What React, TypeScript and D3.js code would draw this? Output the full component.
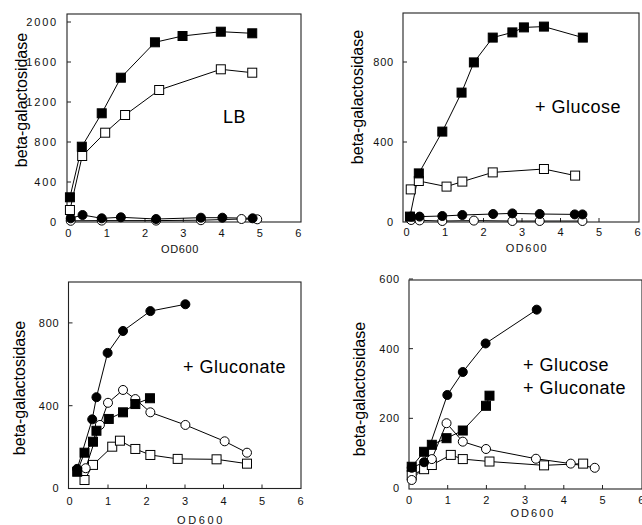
import React, { useEffect, useRef } from 'react';
import * as d3 from 'd3';

type Pt = [number, number];

// OD600 vs beta-galactosidase
// LB
const lbFilledSquare: Pt[] = [[0.04, 247], [0.35, 753], [0.87, 1087], [1.37, 1443], [2.26, 1797], [2.98, 1860], [3.98, 1903], [4.8, 1887]];
const lbOpenSquare: Pt[] = [[0.04, 120], [0.36, 660], [0.96, 893], [1.48, 1070], [2.37, 1320], [3.98, 1527], [4.8, 1493]];
const lbFilledCircle: Pt[] = [[0.06, 37], [0.37, 70], [0.87, 37], [1.37, 47], [2.29, 30], [3.46, 43], [4.02, 43], [4.81, 37]];
const lbOpenCircle: Pt[] = [[0.06, 12], [0.87, 14], [2.29, 14], [3.46, 18], [4.52, 30], [4.93, 27]];

// + Glucose
const gluFilledSquare: Pt[] = [[0.09, 27], [0.32, 243], [0.93, 452], [1.43, 647], [1.75, 798], [2.24, 922], [2.75, 948], [3.05, 973], [3.57, 977], [4.58, 922]];
const gluOpenSquare: Pt[] = [[0.11, 163], [0.32, 205], [1.04, 177], [1.45, 202], [2.24, 248], [3.57, 265], [4.38, 232]];
const gluFilledCircle: Pt[] = [[0.12, 27], [0.34, 27], [0.93, 30], [1.45, 35], [2.25, 40], [2.75, 43], [3.46, 40], [4.37, 38], [4.57, 38]];
const gluOpenCircle: Pt[] = [[0.12, 10], [0.34, 8], [0.93, 5], [1.75, 7], [2.75, 5], [3.46, 5], [4.57, 5]];

// + Gluconate
const gnFilledSquare: Pt[] = [[0.2, 81], [0.39, 173], [0.61, 226], [0.7, 279], [1.02, 336], [1.39, 368], [1.71, 408], [2.09, 436]];
const gnOpenSquare: Pt[] = [[0.39, 41], [0.61, 114], [1.11, 202], [1.31, 231], [1.71, 191], [2.1, 162], [2.81, 143], [3.82, 141], [4.61, 120]];
const gnFilledCircle: Pt[] = [[0.2, 95], [0.59, 334], [0.7, 441], [0.99, 655], [1.39, 761], [2.1, 857], [3.01, 890]];
const gnOpenCircle: Pt[] = [[0.42, 98], [0.79, 307], [1.0, 414], [1.39, 476], [1.71, 432], [2.1, 368], [3.01, 307], [4.03, 228], [4.61, 173]];

// + Glucose + Gluconate
const bothFilledSquare: Pt[] = [[0.07, 61], [0.39, 104], [0.59, 124], [0.97, 143], [1.39, 165], [1.99, 236], [2.08, 265]];
const bothOpenSquare: Pt[] = [[0.07, 37], [0.39, 54], [0.59, 66], [1.08, 95], [1.39, 83], [2.08, 76], [3.49, 65], [4.5, 70]];
const bothFilledCircle: Pt[] = [[0.07, 58], [0.39, 74], [0.99, 267], [1.39, 333], [1.98, 415], [3.3, 512]];
const bothOpenCircle: Pt[] = [[0.07, 23], [0.59, 83], [0.97, 186], [1.39, 133], [1.99, 112], [3.28, 84], [4.18, 70], [4.8, 58]];

const xTicks = [0, 1, 2, 3, 4, 5, 6];
const lbTicks = [0, 400, 800, 1200, 1600, 2000];
const gluTicks = [0, 400, 800];
const gnTicks = [0, 400, 800];
const bothTicks = [0, 200, 400, 600];

type Kind = 'fs' | 'os' | 'fc' | 'oc';

const panels = [
  {
    box: { left: 67, right: 301, top: 14, bottom: 222 },
    xRange: [68.4, 298.2], yDomain: [0, 2000], yRange: [222, 22], yTicks: lbTicks,
    series: [[lbOpenCircle, 'oc'], [lbFilledCircle, 'fc'], [lbOpenSquare, 'os'], [lbFilledSquare, 'fs']],
    labels: [['LB', 223, 123]],
    yTitle: [21, 100], xTitle: [180, 253], tickY: 237, tickSpacing: 1.8, titleSpacing: 0.6,
  },
  {
    box: { left: 403, right: 639, top: 13, bottom: 222 },
    xRange: [406.5, 637.5], yDomain: [0, 800], yRange: [222, 62], yTicks: gluTicks,
    series: [[gluOpenCircle, 'oc'], [gluFilledCircle, 'fc'], [gluOpenSquare, 'os'], [gluFilledSquare, 'fs']],
    labels: [['+ Glucose', 535, 113]],
    yTitle: [357, 97], xTitle: [527, 252], tickY: 236, tickSpacing: 0.8, titleSpacing: 1.5,
  },
  {
    box: { left: 68.5, right: 301, top: 282, bottom: 488.5 },
    xRange: [69.5, 300.5], yDomain: [0, 800], yRange: [488.5, 322.9], yTicks: gnTicks,
    series: [[gnOpenSquare, 'os'], [gnOpenCircle, 'oc'], [gnFilledSquare, 'fs'], [gnFilledCircle, 'fc']],
    labels: [['+ Gluconate', 183, 373]],
    yTitle: [19, 388], xTitle: [201, 524], tickY: 505, tickSpacing: 0.8, titleSpacing: 2.6,
  },
  {
    box: { left: 409, right: 642, top: 280, bottom: 489 },
    xRange: [409, 641.2], yDomain: [0, 600], yRange: [488, 279], yTicks: bothTicks,
    series: [[bothOpenSquare, 'os'], [bothOpenCircle, 'oc'], [bothFilledSquare, 'fs'], [bothFilledCircle, 'fc']],
    labels: [['+ Glucose', 523, 371], ['+ Gluconate', 523, 394]],
    yTitle: [359, 389], xTitle: [533, 516.5], tickY: 504, tickSpacing: 0.8, titleSpacing: 2,
  },
];

const FONT = '"Liberation Sans", Arial, Helvetica, sans-serif';

function drawChart(svgEl: SVGSVGElement) {
  const svg = d3.select(svgEl);
  svg.selectAll('*').remove();

  panels.forEach((p) => {
    const g = svg.append('g');
    const x = d3.scaleLinear().domain([0, 6]).range(p.xRange);
    const y = d3.scaleLinear().domain(p.yDomain).range(p.yRange);
    const { left, right, top, bottom } = p.box;

    // frame
    g.append('rect')
      .attr('x', left)
      .attr('y', top)
      .attr('width', right - left)
      .attr('height', bottom - top)
      .attr('fill', 'none')
      .attr('stroke', '#222')
      .attr('stroke-width', 1.1);

    // x ticks (inward)
    g.append('g')
      .selectAll('line')
      .data(xTicks.slice(1, -1))
      .join('line')
      .attr('x1', (d) => x(d))
      .attr('x2', (d) => x(d))
      .attr('y1', bottom)
      .attr('y2', bottom - 4)
      .attr('stroke', '#222');

    g.append('g')
      .attr('font-family', FONT)
      .attr('font-size', 11)
      .attr('text-anchor', 'middle')
      .attr('fill', '#111')
      .selectAll('text')
      .data(xTicks)
      .join('text')
      .attr('x', (d) => x(d))
      .attr('y', p.tickY)
      .text((d) => d);

    // y ticks (inward)
    g.append('g')
      .selectAll('line')
      .data(p.yTicks.slice(1))
      .join('line')
      .attr('x1', left)
      .attr('x2', left + 4)
      .attr('y1', (d) => y(d))
      .attr('y2', (d) => y(d))
      .attr('stroke', '#222');

    g.append('g')
      .attr('font-family', FONT)
      .attr('font-size', 11)
      .attr('text-anchor', 'end')
      .attr('fill', '#111')
      .selectAll('text')
      .data(p.yTicks)
      .join('text')
      .attr('x', left - 9)
      .attr('y', (d) => y(d))
      .attr('dy', '0.36em')
      .attr('letter-spacing', p.tickSpacing)
      .text((d) => d);

    // axis titles
    g.append('text')
      .attr('x', p.xTitle[0])
      .attr('y', p.xTitle[1])
      .attr('text-anchor', 'middle')
      .attr('font-family', FONT)
      .attr('font-size', 11)
      .attr('letter-spacing', p.titleSpacing)
      .attr('fill', '#111')
      .text('OD600');

    g.append('text')
      .attr('transform', `translate(${p.yTitle[0]},${p.yTitle[1]}) rotate(-90)`)
      .attr('text-anchor', 'middle')
      .attr('dy', '0.35em')
      .attr('font-family', FONT)
      .attr('font-size', 16)
      .attr('fill', '#000')
      .text('beta-galactosidase');

    // condition labels
    g.append('g')
      .attr('font-family', FONT)
      .attr('font-size', 18)
      .attr('letter-spacing', 0.5)
      .attr('fill', '#000')
      .selectAll('text')
      .data(p.labels)
      .join('text')
      .attr('x', (d) => d[1])
      .attr('y', (d) => d[2])
      .text((d) => d[0]);

    const line = d3
      .line<Pt>()
      .x((d) => x(d[0]))
      .y((d) => y(d[1]));

    // connecting lines
    p.series.forEach(([pts]) => {
      g.append('path')
        .datum(pts as Pt[])
        .attr('d', line)
        .attr('fill', 'none')
        .attr('stroke', '#000')
        .attr('stroke-width', 1);
    });

    // markers
    p.series.forEach(([pts, kind]) => {
      const k = kind as Kind;
      const filled = k === 'fs' || k === 'fc';
      const mg = g
        .append('g')
        .attr('fill', filled ? '#000' : '#fff')
        .attr('stroke', '#000')
        .attr('stroke-width', 1);
      if (k === 'fs' || k === 'os') {
        mg.selectAll('rect')
          .data(pts as Pt[])
          .join('rect')
          .attr('x', (d) => x(d[0]) - 4.5)
          .attr('y', (d) => y(d[1]) - 4.5)
          .attr('width', 9)
          .attr('height', 9);
      } else {
        mg.selectAll('circle')
          .data(pts as Pt[])
          .join('circle')
          .attr('cx', (d) => x(d[0]))
          .attr('cy', (d) => y(d[1]))
          .attr('r', 4.5);
      }
    });
  });
}

export default function App() {
  const ref = useRef<SVGSVGElement>(null);
  useEffect(() => {
    if (ref.current) drawChart(ref.current);
  }, []);
  return (
    <div style={{ position: 'absolute', left: 0, top: 0, width: 642, height: 525, background: '#fff' }}>
      <svg ref={ref} width={642} height={525} style={{ display: 'block' }} />
    </div>
  );
}
